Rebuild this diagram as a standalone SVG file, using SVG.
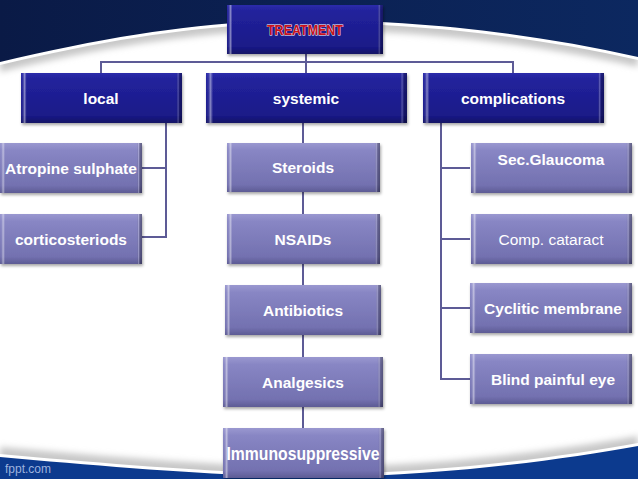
<svg xmlns="http://www.w3.org/2000/svg" width="638" height="479" viewBox="0 0 638 479">
<defs>
<linearGradient id="navy" x1="0" y1="0" x2="1" y2="0">
<stop offset="0" stop-color="#0a1a46"/><stop offset="1" stop-color="#0c2860"/>
</linearGradient>
<linearGradient id="dark" x1="0" y1="0" x2="0" y2="1">
<stop offset="0" stop-color="#2c2cab"/><stop offset="0.12" stop-color="#22229c"/><stop offset="0.85" stop-color="#1a1a88"/><stop offset="1" stop-color="#121266"/>
</linearGradient>
<linearGradient id="light" x1="0" y1="0" x2="0" y2="1">
<stop offset="0" stop-color="#9a98d0"/><stop offset="0.15" stop-color="#8886c4"/><stop offset="0.85" stop-color="#7371b0"/><stop offset="1" stop-color="#5d5b94"/>
</linearGradient>
<linearGradient id="bevel" x1="0" y1="0" x2="1" y2="0">
<stop offset="0" stop-color="#fff" stop-opacity="0"/>
<stop offset="0.012" stop-color="#fff" stop-opacity="0.08"/>
<stop offset="0.022" stop-color="#fff" stop-opacity="0.45"/>
<stop offset="0.035" stop-color="#fff" stop-opacity="0"/>
<stop offset="0.965" stop-color="#000" stop-opacity="0"/>
<stop offset="0.975" stop-color="#fff" stop-opacity="0.25"/>
<stop offset="0.985" stop-color="#000" stop-opacity="0.25"/>
<stop offset="1" stop-color="#000" stop-opacity="0.35"/>
</linearGradient>
<filter id="sh" x="-10%" y="-10%" width="120%" height="130%">
<feDropShadow dx="1" dy="2" stdDeviation="1.5" flood-color="#000" flood-opacity="0.35"/>
</filter>
<filter id="blur" x="-5%" y="-50%" width="110%" height="200%">
<feGaussianBlur stdDeviation="3"/>
</filter>
<style>
.d{fill:url(#dark);filter:url(#sh)}
.l{fill:url(#light);filter:url(#sh)}
.b{fill:url(#bevel)}
.t{font-family:"Liberation Sans",Arial,sans-serif;font-weight:bold;font-size:15.5px;fill:#fff;text-anchor:middle}
.n{font-weight:normal}
.c{fill:none;stroke:#5d5b96;stroke-width:2}
</style>
</defs>
<rect width="638" height="479" fill="#fff"/>
<g id="background">
<path d="M0,0 H638 V67 C520,40 400,30 306,30 C220,30 120,42 0,72 Z" fill="#c8c8c8" filter="url(#blur)"/>
<path d="M0,0 H638 V60 C520,33 400,23 306,23 C220,23 120,36 0,65 Z" fill="#fff"/>
<path d="M0,0 H638 V57 C520,30 400,20 306,20 C220,20 120,33 0,62 Z" fill="url(#navy)"/>
<path d="M0,447 C120,458 250,468 330,467 C450,465 560,450 638,436 V479 H0 Z" fill="#c8c8c8" filter="url(#blur)"/>
<path d="M0,454 C120,465 250,475 330,474 C450,472 560,457 638,443 V479 H0 Z" fill="#fff"/>
<path d="M0,457 C120,468 250,478 330,477 C450,475 560,460 638,446 V479 H0 Z" fill="#0c3a8e"/>
<text x="5" y="473" font-family="Liberation Sans,Arial,sans-serif" font-size="12" fill="#9db2de">fppt.com</text>
</g>
<g id="connectors">
<path class="c" d="M306,54 V62 M101,73 V62 H513 V73 M306,62 V73"/>
<path class="c" d="M101,123 M166,123 V237 H142 M166,168 H142"/>
<path class="c" d="M303,123 V428"/>
<path class="c" d="M441,123 V379 H470 M441,168 H470 M441,239 H470 M441,308 H470"/>
</g>
<g id="treatment">
<rect class="d" x="227" y="5" width="156" height="49"/><rect class="b" x="227" y="5" width="156" height="49"/>
<text x="305" y="35" textLength="76" lengthAdjust="spacingAndGlyphs" font-family="Liberation Sans,Arial,sans-serif" font-weight="bold" font-size="14" fill="#c8101c" stroke="#fff" stroke-width="0.8" paint-order="stroke" text-anchor="middle">TREATMENT</text>
</g>
<g id="local"><rect class="d" x="21" y="73" width="161" height="50"/><rect class="b" x="21" y="73" width="161" height="50"/><text class="t" x="101" y="104">local</text></g>
<g id="systemic"><rect class="d" x="206" y="73" width="201" height="50"/><rect class="b" x="206" y="73" width="201" height="50"/><text class="t" x="306" y="104">systemic</text></g>
<g id="complications"><rect class="d" x="423" y="73" width="181" height="50"/><rect class="b" x="423" y="73" width="181" height="50"/><text class="t" x="513" y="104">complications</text></g>
<g id="atropine"><rect class="l" x="0" y="143" width="142" height="50"/><rect class="b" x="0" y="143" width="142" height="50"/><text class="t" x="71" y="174">Atropine sulphate</text></g>
<g id="corticosteriods"><rect class="l" x="0" y="214" width="142" height="50"/><rect class="b" x="0" y="214" width="142" height="50"/><text class="t" x="71" y="245">corticosteriods</text></g>
<g id="steroids"><rect class="l" x="227" y="143" width="153" height="49"/><rect class="b" x="227" y="143" width="153" height="49"/><text class="t" x="303" y="173">Steroids</text></g>
<g id="nsaids"><rect class="l" x="227" y="214" width="153" height="50"/><rect class="b" x="227" y="214" width="153" height="50"/><text class="t" x="303" y="245">NSAIDs</text></g>
<g id="antibiotics"><rect class="l" x="225" y="285" width="156" height="50"/><rect class="b" x="225" y="285" width="156" height="50"/><text class="t" x="303" y="316">Antibiotics</text></g>
<g id="analgesics"><rect class="l" x="223" y="357" width="160" height="50"/><rect class="b" x="223" y="357" width="160" height="50"/><text class="t" x="303" y="388">Analgesics</text></g>
<g id="immunosuppressive"><rect class="l" x="223" y="428" width="161" height="50"/><rect class="b" x="223" y="428" width="161" height="50"/><text class="t" x="303" y="460" font-size="18" style="font-size:18px" textLength="153" lengthAdjust="spacingAndGlyphs">Immunosuppressive</text></g>
<g id="glaucoma"><rect class="l" x="471" y="143" width="161" height="50"/><rect class="b" x="471" y="143" width="161" height="50"/><text class="t" x="551" y="165">Sec.Glaucoma</text></g>
<g id="cataract"><rect class="l" x="471" y="214" width="161" height="50"/><rect class="b" x="471" y="214" width="161" height="50"/><text class="t n" x="551" y="245">Comp. cataract</text></g>
<g id="cyclitic"><rect class="l" x="470" y="283" width="162" height="50"/><rect class="b" x="470" y="283" width="162" height="50"/><text class="t" x="553" y="314">Cyclitic membrane</text></g>
<g id="blind"><rect class="l" x="470" y="354" width="162" height="50"/><rect class="b" x="470" y="354" width="162" height="50"/><text class="t" x="553" y="385">Blind painful eye</text></g>
</svg>
